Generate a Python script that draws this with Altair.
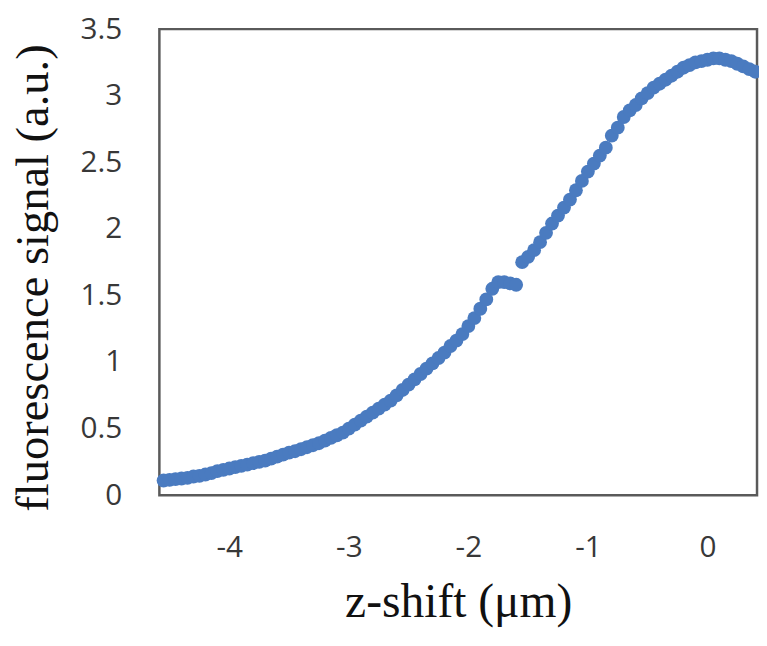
import altair as alt
import pandas as pd

z_shift = [-4.55, -4.50, -4.45, -4.40, -4.35, -4.30, -4.25, -4.20, -4.15, -4.10,
           -4.05, -4.00, -3.95, -3.90, -3.85, -3.80, -3.75, -3.70, -3.65, -3.60,
           -3.55, -3.50, -3.45, -3.40, -3.35, -3.30, -3.25, -3.20, -3.15, -3.10,
           -3.05, -3.00, -2.95, -2.90, -2.85, -2.80, -2.75, -2.70, -2.65, -2.60,
           -2.55, -2.50, -2.45, -2.40, -2.35, -2.30, -2.25, -2.20, -2.15, -2.10,
           -2.05, -2.00, -1.95, -1.90, -1.85, -1.80, -1.75, -1.70, -1.65, -1.60,
           -1.55, -1.50, -1.45, -1.40, -1.35, -1.30, -1.25, -1.20, -1.15, -1.10,
           -1.05, -1.00, -0.95, -0.90, -0.85, -0.80, -0.75, -0.70, -0.65, -0.60,
           -0.55, -0.50, -0.45, -0.40, -0.35, -0.30, -0.25, -0.20, -0.15, -0.10,
           -0.05, 0.00, 0.05, 0.10, 0.15, 0.20, 0.25, 0.30, 0.35, 0.40]

signal = [0.11, 0.115, 0.12, 0.125, 0.13, 0.14, 0.145, 0.155, 0.165, 0.18,
          0.19, 0.20, 0.21, 0.22, 0.23, 0.24, 0.25, 0.26, 0.275, 0.29,
          0.305, 0.32, 0.33, 0.345, 0.36, 0.375, 0.39, 0.41, 0.43, 0.45,
          0.47, 0.50, 0.53, 0.56, 0.59, 0.62, 0.65, 0.68, 0.71, 0.75,
          0.79, 0.83, 0.87, 0.91, 0.95, 0.99, 1.03, 1.07, 1.12, 1.16,
          1.21, 1.27, 1.33, 1.40, 1.47, 1.55, 1.60, 1.60, 1.59, 1.58,
          1.75, 1.79, 1.84, 1.90, 1.97, 2.04, 2.10, 2.16, 2.22, 2.29,
          2.36, 2.43, 2.49, 2.55, 2.61, 2.70, 2.76, 2.84, 2.89, 2.93,
          2.98, 3.02, 3.06, 3.09, 3.12, 3.15, 3.18, 3.21, 3.23, 3.25,
          3.26, 3.27, 3.28, 3.28, 3.27, 3.26, 3.24, 3.22, 3.20, 3.18]

x_ticks = [-4, -3, -2, -1, 0]
y_ticks = [0, 0.5, 1, 1.5, 2, 2.5, 3, 3.5]

df = pd.DataFrame({"z": z_shift, "s": signal})

chart = alt.Chart(df).mark_circle(size=195, opacity=1, color="#4a7bc0").encode(
    x=alt.X("z:Q",
            scale=alt.Scale(domain=[-4.585, 0.415], nice=False, zero=False),
            axis=alt.Axis(values=x_ticks, title="z-shift (μm)", domain=False, ticks=False,
                          grid=False, labelFont="Open Sans", labelFontSize=30,
                          labelColor="#383838", labelPadding=38,
                          labelExpr="toString(datum.value)",
                          titleFont="Liberation Serif", titleFontSize=48,
                          titleFontWeight="normal", titleColor="#111111",
                          titleBaseline="alphabetic", titleY=123)),
    y=alt.Y("s:Q",
            scale=alt.Scale(domain=[0, 3.5], nice=False),
            axis=alt.Axis(values=y_ticks, title="fluorescence signal (a.u.)", domain=False,
                          ticks=False, grid=False, labelFont="Open Sans", labelFontSize=30,
                          labelColor="#383838", labelPadding=38,
                          labelExpr="toString(datum.value)",
                          titleFont="Liberation Serif", titleFontSize=47,
                          titleFontWeight="normal", titleColor="#111111",
                          titleBaseline="alphabetic", titleX=-113, titleY=251,
                          titleAngle=270)),
).properties(
    width=604, height=471,
    autosize=alt.AutoSizeParams(type="none"),
    padding={"left": 153, "top": 18, "right": 2, "bottom": 140},
).configure_view(stroke="#5a5a5a", strokeWidth=2.5)

chart.save("out.html", embed_options={"renderer": "svg", "actions": False})
